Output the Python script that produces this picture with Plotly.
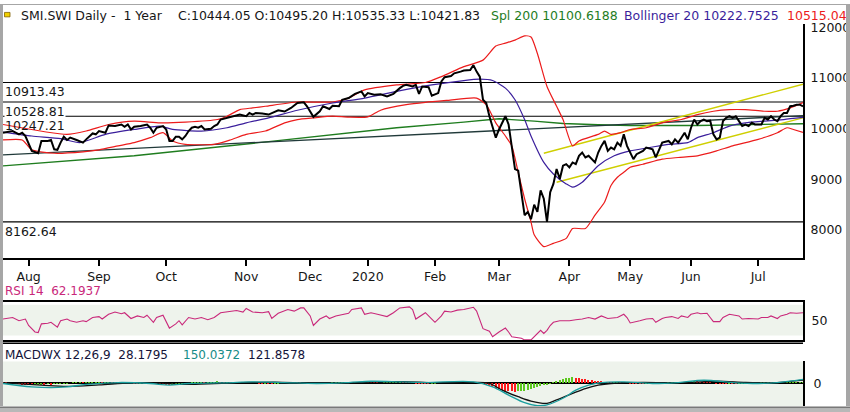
import plotly.graph_objects as go

W, H = 850, 412

# x = trading-day index inside the one-year window (0 .. 250)
close_day = [0, 3, 5, 6, 7, 8, 9, 11, 12, 14, 15, 16, 17, 18, 19, 20, 21, 23, 25, 26,
             28, 29, 30, 32, 33, 35, 37, 38, 39, 40, 41, 43, 45, 46, 47, 48, 50, 51, 52, 53,
             54, 55, 56, 57, 58, 59, 60, 61, 62, 63, 65, 66, 67, 68, 70, 72, 74, 76, 77, 78,
             79, 81, 83, 86, 88, 90, 92, 94, 95, 97, 99, 100, 102, 103, 105, 106, 108, 110, 112, 113,
             114, 116, 118, 120, 122, 124, 125, 126, 128, 129, 130, 131, 133, 134, 136, 137, 138, 140, 141, 143,
             144, 146, 147, 148, 149, 150, 151, 152, 154, 155, 157, 158, 160, 161, 163, 164, 165, 166, 167, 168,
             169, 170, 171, 172, 173, 174, 175, 176, 177, 178, 179, 180, 181, 182, 183, 185, 186, 187, 188, 189,
             190, 191, 192, 193, 194, 195, 197, 198, 200, 201, 203, 204, 205, 206, 208, 209, 210, 211, 212, 213,
             214, 215, 216, 217, 218, 219, 220, 221, 222, 223, 224, 225, 226, 227, 228, 229, 230, 231, 232, 233,
             234, 235, 237, 238, 239, 240, 241, 242, 243, 244, 245, 246, 247, 248, 249, 250]
close_val = [9922, 9955, 9889, 9922, 9855, 9726, 9564, 9517, 9760, 9760, 9779, 9595, 9584, 9726, 9844, 9779, 9824, 9779, 9726, 9791,
             9908, 9890, 9955, 9922, 10065, 10053, 10084, 10039, 10084, 9986, 10039, 10053, 10084, 10020, 9922, 10020, 10053, 9986, 9760, 9760,
             9844, 9844, 9791, 9857, 9955, 10020, 10039, 10020, 10053, 9986, 10000, 10053, 10084, 10182, 10215, 10248, 10280, 10248, 10313, 10280,
             10313, 10299, 10280, 10366, 10340, 10411, 10508, 10522, 10444, 10235, 10346, 10444, 10391, 10455, 10444, 10573, 10606, 10690, 10737, 10639,
             10704, 10671, 10680, 10639, 10690, 10802, 10847, 10866, 10835, 10866, 10690, 10835, 10820, 10651, 10704, 10933, 11017, 11042, 11095, 11128,
             11148, 11159, 11257, 11128, 11030, 10573, 10508, 10248, 9824, 9986, 10248, 10084, 9204, 9173, 8293, 8358, 8215, 8501, 8358, 8782,
             8618, 8162, 8749, 8911, 9204, 9009, 9271, 9302, 9238, 9335, 9302, 9466, 9531, 9433, 9466, 9335, 9531, 9662, 9760, 9564,
             9629, 9595, 9726, 9662, 9889, 9662, 9400, 9498, 9564, 9629, 9595, 9433, 9564, 9726, 9760, 9693, 9791, 9726, 9824, 9922,
             9791, 10020, 10182, 10084, 10151, 10182, 10151, 10160, 9889, 9791, 9824, 10151, 10215, 10248, 10215, 10248, 10151, 10053, 10084, 10053,
             10117, 10084, 10084, 10215, 10182, 10248, 10182, 10151, 10248, 10313, 10313, 10444, 10455, 10475, 10475, 10444]

# Bollinger 20 (upper / middle / lower)
bb_up_day = [0, 20, 26, 33, 41, 49, 57, 67, 70, 74, 78, 82, 92, 103, 108, 113, 123, 132, 137, 144,
             150, 154, 157, 160, 163, 165, 167, 170, 173, 175, 178, 180, 186, 188, 190, 193, 196, 201, 206, 212,
             217, 222, 227, 232, 238, 242, 246, 250]
bb_up_val = [10084, 9889, 9955, 10084, 10151, 10117, 10131, 10182, 10248, 10377, 10411, 10444, 10528, 10528, 10606, 10768, 10866, 10913, 11030, 11226,
             11355, 11632, 11691, 11750, 11834, 11812, 11486, 10835, 10444, 10182, 9662, 9760, 9889, 9955, 9889, 9922, 9986, 10020, 10117, 10182,
             10280, 10346, 10377, 10377, 10346, 10346, 10411, 10515]
bb_mid_day = [0, 9, 18, 24, 32, 41, 49, 53, 62, 70, 76, 83, 92, 103, 113, 123, 134, 144, 149, 153,
              157, 160, 163, 165, 169, 172, 176, 178, 181, 186, 191, 196, 202, 208, 214, 217, 222, 227, 232, 238,
              244, 250]
bb_mid_val = [9935, 9857, 9804, 9726, 9889, 9986, 10053, 9986, 9955, 10020, 10117, 10215, 10366, 10508, 10606, 10737, 10866, 10952, 10978, 10952,
              10802, 10573, 10182, 9857, 9335, 9107, 8911, 8847, 8944, 9271, 9466, 9564, 9629, 9693, 9726, 9824, 9922, 10053, 10117, 10151,
              10182, 10223]
bb_low_day = [0, 6, 9, 16, 25, 30, 36, 41, 46, 50, 53, 57, 66, 71, 76, 82, 88, 92, 97, 103,
              108, 114, 118, 126, 132, 139, 148, 151, 154, 157, 159, 161, 163, 165, 166, 169, 172, 176, 178, 182,
              185, 188, 190, 192, 194, 196, 200, 206, 211, 217, 223, 228, 236, 242, 245, 247, 250]
bb_low_val = [9779, 9779, 9584, 9517, 9545, 9584, 9662, 9726, 9824, 9922, 9760, 9693, 9693, 9779, 9889, 9955, 10117, 10182, 10215, 10248,
              10229, 10235, 10366, 10475, 10522, 10561, 10606, 10475, 10117, 9857, 9662, 9140, 8618, 8162, 7908, 7674, 7738, 7836, 8031, 8031,
              8293, 8553, 8880, 9042, 9140, 9240, 9300, 9400, 9433, 9466, 9564, 9662, 9791, 9922, 10020, 9986, 9930]

sma200_day = [0, 41, 83, 103, 123, 144, 155, 166, 175, 186, 196, 217, 238, 250]
sma200_val = [9267, 9466, 9746, 9889, 10020, 10131, 10196, 10151, 10104, 10078, 10065, 10065, 10078, 10100]

trend_day = [0, 250]
trend_val = [9484, 10260]
chan_up_day = [169, 250]
chan_up_val = [9517, 10880]
chan_low_day = [173, 250]
chan_low_val = [8944, 10215]

levels = [10913.43, 10528.81, 10247.21, 8162.64]

# RSI 14
rsi_day = [0, 3, 5, 7, 8, 10, 11, 12, 14, 15, 17, 18, 20, 21, 23, 25, 26, 28, 30, 31,
           33, 35, 37, 38, 40, 42, 44, 45, 47, 48, 50, 51, 52, 54, 55, 56, 58, 60, 62, 64,
           66, 68, 71, 73, 75, 76, 78, 81, 83, 84, 86, 89, 91, 93, 94, 96, 97, 99, 101, 102,
           104, 106, 108, 109, 112, 113, 115, 117, 120, 122, 124, 127, 128, 129, 131, 132, 134, 135, 137, 138,
           140, 142, 144, 146, 147, 148, 149, 150, 152, 153, 155, 157, 158, 159, 162, 163, 165, 166, 167, 168,
           169, 170, 171, 172, 174, 177, 179, 181, 183, 185, 187, 189, 192, 194, 195, 196, 199, 201, 203, 204,
           206, 207, 209, 211, 212, 214, 215, 217, 218, 220, 221, 222, 224, 225, 227, 229, 230, 231, 233, 236,
           237, 239, 240, 242, 243, 245, 246, 248, 250]
rsi_val = [51.9, 54.4, 49.2, 51.9, 41.4, 30.9, 30.0, 44.1, 45.0, 46.6, 38.8, 49.2, 51.9, 49.2, 46.6, 49.2, 47.7, 54.4, 55.9, 51.9,
           59.7, 63.3, 60.6, 62.2, 52.8, 57.0, 54.4, 58.1, 46.6, 54.4, 58.1, 46.6, 37.2, 44.1, 49.2, 42.5, 54.4, 51.9, 54.4, 50.8,
           54.4, 62.2, 64.8, 65.9, 63.3, 69.1, 63.3, 62.2, 63.8, 52.8, 61.3, 67.5, 64.8, 70.0, 70.0, 57.0, 41.4, 51.9, 57.0, 52.8,
           57.0, 59.7, 61.3, 67.5, 70.0, 59.7, 62.2, 59.7, 55.9, 62.2, 70.0, 71.6, 67.5, 51.9, 58.1, 62.2, 51.9, 46.6, 57.0, 64.8,
           63.3, 66.4, 67.5, 69.1, 71.1, 64.8, 51.9, 36.3, 32.0, 23.1, 30.9, 37.2, 30.9, 23.1, 20.6, 18.0, 18.0, 23.1, 26.9, 33.6,
           28.4, 33.6, 41.4, 46.6, 49.2, 49.2, 50.8, 51.9, 54.4, 51.9, 57.0, 52.8, 54.4, 59.7, 54.4, 45.6, 49.2, 51.9, 52.8, 46.6,
           52.8, 54.4, 55.9, 52.8, 57.0, 54.4, 59.7, 62.2, 60.6, 61.3, 54.4, 47.7, 47.7, 54.4, 59.7, 58.1, 57.0, 51.9, 52.8, 51.9,
           54.4, 54.4, 57.0, 52.8, 57.0, 59.7, 62.2, 61.3, 62.19]

# MACD 12,26,9
macd_day = [0, 9, 15, 20, 26, 36, 46, 52, 58, 72, 78, 88, 98, 108, 115, 124, 132, 147, 153, 158,
            163, 167, 170, 175, 179, 183, 187, 194, 203, 211, 219, 228, 236, 242, 250]
macd_val = [0, -120, -150, -120, -35, 35, 0, -60, 0, 35, 60, 35, 0, 35, 80, 60, 35, 60, -120, -415,
            -690, -795, -770, -530, -240, -60, 35, 57, 0, 35, 117, 35, 0, 35, 150]
signal_day = [0, 12, 20, 30, 40, 50, 56, 64, 75, 85, 95, 105, 115, 125, 135, 147, 152, 156, 161, 165,
              170, 173, 178, 182, 186, 190, 200, 208, 215, 223, 232, 240, 250]
signal_val = [20, -60, -100, -50, 20, 10, -30, -10, 30, 50, 20, 10, 50, 70, 30, 40, 0, -240, -475, -630,
              -710, -590, -355, -180, -60, 0, 40, 20, 40, 80, 40, 20, 122]
# histogram, one bar per trading day starting at day 0
hist_val = [10, 5, -5, -10, -20, -30, -40, -50, -55, -60,
            -55, -50, -40, -45, -35, -40, -30, -25, -15, -10,
            -5, 0, 5, 10, 15, 10, 15, 20, 25, 30,
            30, 25, 30, 35, 30, 25, 20, 15, 10, 5,
            0, -5, -10, -5, -10, -15, -20, -15, -25, -30,
            -35, -40, -45, -40, -30, -20, -15, -5, 0, 10,
            15, 20, 25, 20, 25, 30, 35, 40, 35, 30,
            35, 30, 25, 20, 25, 20, 15, 10, 5, 0,
            -5, -10, -5, -10, -15, -10, -5, 0, 5, 10,
            15, 20, 15, 10, 0, -10, -20, -25, -20, -15,
            -10, -5, 0, 5, 10, 15, 20, 25, 30, 25,
            30, 35, 30, 25, 20, 15, 10, 5, 0, 5,
            10, 15, 20, 25, 30, 25, 20, 15, 5, -5,
            -10, -15, -20, -25, -20, -10, 0, 10, 20, 25,
            30, 35, 30, 35, 40, 35, 30, 25, 20, 10,
            -20, -60, -100, -150, -180, -220, -250, -270, -290, -300,
            -310, -300, -290, -280, -260, -230, -190, -150, -110, -80,
            -50, -20, 20, 60, 100, 140, 170, 190, 200, 195,
            180, 160, 140, 120, 100, 80, 60, 40, 25, 15,
            10, 15, 20, 15, 10, 5, -5, -10, -15, -20,
            -25, -20, -15, -10, -15, -10, -5, 0, 5, 10,
            15, 20, 25, 30, 35, 40, 45, 40, 35, 30,
            20, 10, 0, -10, -15, -20, -25, -20, -30, -35,
            -30, -25, -20, -15, -10, -5, 0, 5, 10, 15,
            10, 15, 10, 5, 0, 5, 10, 15, 20, 25,
            28]

month_pos = [8, 30, 51, 76, 96, 114, 135, 155, 177, 196, 215, 236]
month_lab = ["Aug", "Sep", "Oct", "Nov", "Dec", "2020", "Feb", "Mar", "Apr", "May", "Jun", "Jul"]
price_ticks = [8000, 9000, 10000, 11000, 12000]


def fy(px):
    # pixel row -> paper fraction
    return 1 - px / H


def fx(px):
    return px / W


FONT = "DejaVu Sans"
font = dict(family=FONT, size=12.5, color="#161616")
RED = "#ec1c1c"
PURPLE = "#3b1f9c"
GREEN = "#1f7d1f"
YELLOW = "#cfcf00"
TEAL = "#1a9e9e"
MAGENTA = "#c9287a"

fig = go.Figure()

# price panel
fig.add_trace(go.Scatter(x=sma200_day, y=sma200_val, mode="lines", line=dict(color=GREEN, width=1.4)))
fig.add_trace(go.Scatter(x=trend_day, y=trend_val, mode="lines", line=dict(color="#213a3a", width=1.3)))
fig.add_trace(go.Scatter(x=chan_up_day, y=chan_up_val, mode="lines", line=dict(color=YELLOW, width=1.4)))
fig.add_trace(go.Scatter(x=chan_low_day, y=chan_low_val, mode="lines", line=dict(color=YELLOW, width=1.4)))
fig.add_trace(go.Scatter(x=bb_up_day, y=bb_up_val, mode="lines", line=dict(color=RED, width=1.2, shape="spline", smoothing=0.6)))
fig.add_trace(go.Scatter(x=bb_low_day, y=bb_low_val, mode="lines", line=dict(color=RED, width=1.2, shape="spline", smoothing=0.6)))
fig.add_trace(go.Scatter(x=bb_mid_day, y=bb_mid_val, mode="lines", line=dict(color=PURPLE, width=1.2, shape="spline", smoothing=0.6)))
fig.add_trace(go.Scatter(x=close_day, y=close_val, mode="lines", line=dict(color="black", width=2)))

# RSI panel
fig.add_trace(go.Scatter(x=rsi_day, y=rsi_val, mode="lines", line=dict(color=MAGENTA, width=1.1),
                         xaxis="x2", yaxis="y2"))

# MACD panel
hist_col = ["#ff1a1a"]
for i in range(1, len(hist_val)):
    hist_col.append("#5cc81e" if hist_val[i] >= hist_val[i - 1] else "#ff1a1a")
fig.add_trace(go.Bar(x=list(range(len(hist_val))), y=hist_val, marker=dict(color=hist_col, line_width=0),
                     width=0.5, xaxis="x3", yaxis="y3"))
fig.add_trace(go.Scatter(x=signal_day, y=signal_val, mode="lines", line=dict(color="#111111", width=1.3, shape="spline"),
                         xaxis="x3", yaxis="y3"))
fig.add_trace(go.Scatter(x=macd_day, y=macd_val, mode="lines", line=dict(color=TEAL, width=1.3, shape="spline"),
                         xaxis="x3", yaxis="y3"))

xdom = [fx(3), fx(803)]
common_x = dict(domain=xdom, range=[0, 250], showgrid=False, zeroline=False, fixedrange=True)

shapes = []
# horizontal level lines
for lvl in levels:
    shapes.append(dict(type="line", xref="x domain", x0=0, x1=1, yref="y", y0=lvl, y1=lvl,
                       line=dict(color="black", width=1.2), layer="below"))
# panel shading
shapes.append(dict(type="rect", xref="x2 domain", x0=0, x1=1, yref="y2", y0=25, y1=75,
                   fillcolor="#eef3ec", line_width=0, layer="below"))
shapes.append(dict(type="rect", xref="x3 domain", x0=0, x1=1, yref="y3 domain", y0=0, y1=1,
                   fillcolor="#eef3ec", line_width=0, layer="below"))
# second line under the RSI panel
shapes.append(dict(type="line", xref="paper", x0=fx(3), x1=fx(803), yref="paper", y0=fy(342.5), y1=fy(342.5),
                   line=dict(color="black", width=1.5)))
# window frame
frame = "#a6a6a6"
shapes += [
    dict(type="rect", xref="paper", yref="paper", x0=0, x1=fx(3), y0=0, y1=1, fillcolor=frame, line_width=0),
    dict(type="rect", xref="paper", yref="paper", x0=fx(846), x1=1, y0=0, y1=1, fillcolor=frame, line_width=0),
    dict(type="rect", xref="paper", yref="paper", x0=0, x1=1, y0=fy(1), y1=1, fillcolor=frame, line_width=0),
    dict(type="rect", xref="paper", yref="paper", x0=0, x1=1, y0=0, y1=fy(406), fillcolor="#b8b8b8", line_width=0),
    dict(type="line", xref="paper", yref="paper", x0=0, x1=1, y0=fy(407.5), y1=fy(407.5),
         line=dict(color="#777777", width=1)),
    # little flag icon
    dict(type="rect", xref="paper", yref="paper", x0=fx(4.5), x1=fx(10), y0=fy(13), y1=fy(8.5),
         fillcolor="#f0d000", line=dict(color="#806000", width=0.8)),
]

ann = []


def label(x, y, text, color="#161616", size=12.5, **kw):
    d = dict(xref="paper", yref="paper", x=fx(x), y=fy(y), text=text, showarrow=False,
             xanchor="left", yanchor="middle", font=dict(family=FONT, size=size, color=color))
    d.update(kw)
    ann.append(d)


label(19, 12, "SMI.SWI Daily -\u00a0\u00a01 Year")
label(176, 12, "C:10444.05 O:10495.20 H:10535.33 L:10421.83")
label(489, 12, "Spl 200 10100.6188", color=GREEN)
label(622, 12, "Bollinger 20 10222.7525", color=PURPLE)
label(786, 12, "10515.04", color=RED, borderpad=0)
label(3, 290, "RSI 14\u00a0\u00a062.1937", color=MAGENTA, size=12)
label(3, 354, "MACDWX 12,26,9\u00a0\u00a028.1795", color="#14143a", size=12)
label(181, 354, "150.0372", color="#168c88", size=12)
label(246, 354, "121.8578", color="#14143a", size=12)

for lvl in levels:
    ann.append(dict(xref="paper", yref="y", x=fx(4), y=lvl, yshift=-1, text=f"{lvl:.2f}", showarrow=False,
                    xanchor="left", yanchor="top", font=font, borderpad=0,
                    bgcolor="white" if lvl == 10528.81 else "rgba(0,0,0,0)"))

fig.update_layout(
    width=W, height=H, autosize=False,
    margin=dict(l=0, r=0, t=0, b=0),
    paper_bgcolor="white", plot_bgcolor="rgba(0,0,0,0)",
    showlegend=False, font=font, bargap=0,
    xaxis=dict(common_x, anchor="y", showline=True, linewidth=2, linecolor="black",
               ticks="outside", ticklen=6, tickwidth=2, tickcolor="black",
               tickvals=month_pos, ticktext=month_lab, tickfont=font),
    yaxis=dict(domain=[fy(256), fy(20)], range=[7458, 12072], side="right", anchor="x",
               showline=True, linewidth=2, linecolor="black", showgrid=False, zeroline=False,
               tickvals=price_ticks, tickformat="d", ticks="", ticklabelstandoff=3, tickfont=font),
    xaxis2=dict(common_x, anchor="y2", matches="x", showticklabels=False, ticks="",
                showline=True, mirror=True, linewidth=2, linecolor="black"),
    yaxis2=dict(domain=[fy(339.5), fy(301)], range=[17.5, 79.5], side="right", anchor="x2",
                showline=True, linewidth=2, linecolor="black", showgrid=False, zeroline=False,
                tickvals=[50], ticks="", ticklabelstandoff=4, tickfont=font),
    xaxis3=dict(common_x, anchor="y3", matches="x", showticklabels=False, ticks="", showline=False),
    yaxis3=dict(domain=[fy(406), fy(361)], range=[-810, 790], side="right", anchor="x3",
                showline=True, linewidth=2, linecolor="black", showgrid=False,
                zeroline=True, zerolinecolor="black", zerolinewidth=2,
                tickvals=[0], ticks="", ticklabelstandoff=6, tickfont=font),
    shapes=shapes,
    annotations=ann,
)

# the page body keeps its default 8px margin unless cleared
fig.write_html("out.html", config={"displayModeBar": False},
               post_script="document.body.style.margin = '0px';")
